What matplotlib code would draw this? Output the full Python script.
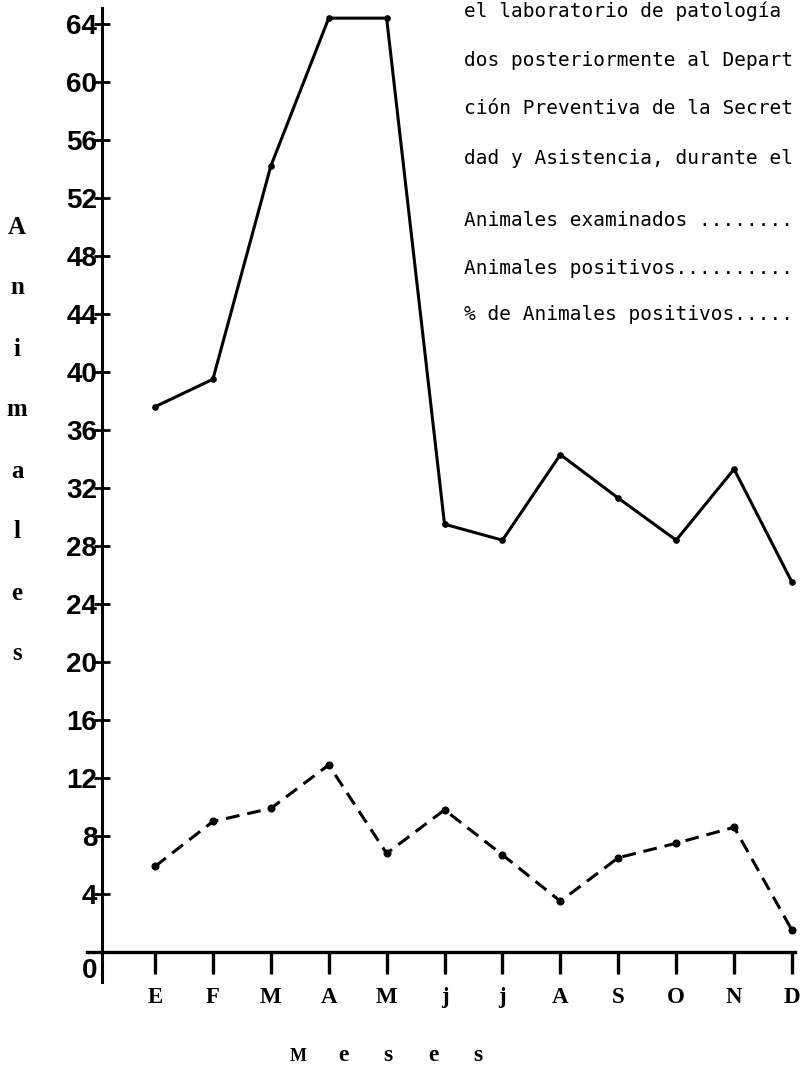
from __future__ import annotations

import matplotlib

matplotlib.use("Agg")
import matplotlib.pyplot as plt
from matplotlib.transforms import blended_transform_factory

# month initials as written on the original sheet
MONTHS = ["E", "F", "M", "A", "M", "j", "j", "A", "S", "O", "N", "D"]
ANIMALES_EXAMINADOS = [37.6, 39.5, 54.2, 64.4, 64.4, 29.5, 28.4, 34.3, 31.3, 28.4, 33.3, 25.5]
ANIMALES_POSITIVOS = [5.9, 9.0, 9.9, 12.9, 6.8, 9.8, 6.7, 3.5, 6.5, 7.5, 8.6, 1.5]
Y_TICKS = list(range(4, 65, 4))
Y_LABEL = "Animales"
X_LABEL = "Meses"
NOTE_LINES = [
    "el laboratorio de patología",
    "dos posteriormente al Depart",
    "ción Preventiva de la Secret",
    "dad y Asistencia, durante el",
    "Animales examinados ........",
    "Animales positivos..........",
    "% de Animales positivos.....",
]

W, H = 803, 1068
SANS = ["Liberation Sans", "DejaVu Sans"]
SERIF = ["Liberation Serif", "DejaVu Serif"]
MONO = ["DejaVu Sans Mono"]


def px(x: float, y: float) -> tuple[float, float]:
    """pixel position (from top-left) -> figure fraction"""
    return x / W, 1 - y / H


def main() -> None:
    fig = plt.figure(figsize=(W / 100, H / 100), dpi=100)
    ax = fig.add_axes([102 / W, (H - 982) / H, (W - 102) / W, (982 - 8) / H])
    ax.set_facecolor("none")

    x = list(range(len(MONTHS)))
    ax.plot(
        x, ANIMALES_EXAMINADOS,
        color="black", linewidth=2.2, marker="o", markersize=3.8,
        solid_joinstyle="round", clip_on=False,
    )
    ax.plot(
        x, ANIMALES_POSITIVOS,
        color="black", linewidth=2.2, linestyle=(0, (4.5, 2.6)),
        marker="o", markersize=4.8, clip_on=False,
    )

    ax.set_xlim(-0.915, 11.19)
    ax.set_ylim(-2.07, 65.1)

    for side in ("top", "right"):
        ax.spines[side].set_visible(False)
    ax.spines["left"].set_linewidth(2.2)
    ax.spines["bottom"].set_position(("data", 0))
    ax.spines["bottom"].set_bounds(-1.17, 11.05)
    ax.spines["bottom"].set_linewidth(2.4)

    ax.set_xticks(x)
    ax.set_xticklabels(MONTHS, fontfamily=SERIF, fontweight="bold", fontsize=16.5)
    ax.tick_params(axis="x", direction="out", length=16, width=2.4, pad=9)

    ax.set_yticks(Y_TICKS)
    ax.set_yticklabels([str(v) for v in Y_TICKS], fontfamily=SANS, fontweight="bold", fontsize=20)
    ax.tick_params(axis="y", direction="inout", length=11, width=2.0, pad=-2)

    # the zero label sits below the axis line on the sheet
    trans = blended_transform_factory(ax.transAxes, ax.transData)
    ax.annotate(
        "0", xy=(0, 0), xycoords=trans, xytext=(-3, -4), textcoords="offset points",
        ha="right", va="top", fontfamily=SANS, fontweight="bold", fontsize=20,
    )

    # vertical stacked axis title
    for i, letter in enumerate(Y_LABEL):
        fig.text(*px(17, 227 + 61 * i), letter, ha="center", va="center",
                 fontfamily=SERIF, fontweight="bold", fontsize=18)

    # widely spaced axis title, first letter set small like on the sheet
    for i, letter in enumerate(X_LABEL):
        fig.text(*px(298 + 45 * i, 1061), letter, ha="center", va="baseline",
                 fontfamily=SERIF, fontweight="bold", fontsize=13 if i == 0 else 17)

    note_y = [11, 60, 108, 158, 220, 268, 315]
    for line, y in zip(NOTE_LINES, note_y):
        fig.text(*px(464, y), line, ha="left", va="center", fontfamily=MONO, fontsize=14)

    fig.savefig("out.png", dpi=100)
    plt.close(fig)


if __name__ == "__main__":
    main()
